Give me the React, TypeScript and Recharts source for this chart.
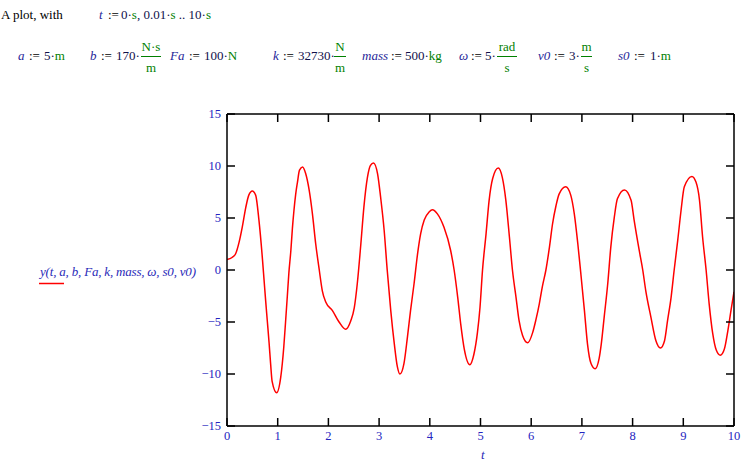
import React from "react";
import { LineChart, Line, XAxis, YAxis } from "recharts";

const tValues = [
  0, 0.1, 0.17, 0.24, 0.3, 0.37, 0.43, 0.5, 0.565, 0.63, 0.7, 0.73, 0.76, 0.795, 0.83, 0.86, 0.89, 0.98,
  1.06, 1.12, 1.155, 1.19, 1.22, 1.26, 1.29, 1.32, 1.355, 1.39, 1.43, 1.49, 1.55, 1.62, 1.685, 1.75, 1.82,
  1.88, 1.95, 2.08, 2.21, 2.34, 2.44, 2.51, 2.57, 2.64, 2.7, 2.77, 2.83, 2.89, 2.97, 3.03, 3.1, 3.16, 3.23,
  3.3, 3.36, 3.41, 3.49, 3.56, 3.62, 3.69, 3.76, 3.82, 3.89, 3.99, 4.05, 4.15, 4.28, 4.41, 4.48, 4.55, 4.61,
  4.68, 4.79, 4.87, 4.94, 4.99, 5.04, 5.11, 5.17, 5.24, 5.35, 5.43, 5.5, 5.57, 5.63, 5.7, 5.76, 5.83, 5.93,
  6.03, 6.09, 6.16, 6.22, 6.29, 6.36, 6.42, 6.49, 6.55, 6.68, 6.78, 6.85, 6.92, 6.98, 7.05, 7.11, 7.18, 7.26,
  7.34, 7.38, 7.44, 7.51, 7.57, 7.64, 7.7, 7.84, 7.97, 8.03, 8.13, 8.2, 8.26, 8.36, 8.46, 8.55, 8.63, 8.69,
  8.76, 8.82, 8.89, 8.955, 9.02, 9.17, 9.25, 9.32, 9.38, 9.45, 9.51, 9.58, 9.65, 9.73, 9.81, 9.88, 9.94, 10,
];
const yValues = [
  1.0, 1.2, 1.56, 2.7, 4.1, 6.0, 7.2, 7.6, 7.2, 4.8, 1.0, -0.9, -2.8, -4.9, -7.0, -9.0, -10.7, -11.8,
  -10.3, -7.4, -5.0, -2.5, -0.3, 1.9, 4.0, 5.7, 7.3, 8.45, 9.6, 9.9, 9.3, 7.7, 5.4, 2.5, 0,
  -2.0, -3.1, -3.9, -5.0, -5.7, -4.9, -3.65, -1.3, 2.5, 6.05, 8.9, 10.05, 10.3, 9.25, 7.0, 3.8, 0, -3.9,
  -7.1, -9.3, -10.0, -9.0, -6.4, -3.9, -1.3, 1.6, 3.5, 4.8, 5.6, 5.8, 5.4, 4.1, 1.9, 0, -2.6, -5.2,
  -7.6, -9.1, -8.1, -6.0, -3.6, 0, 3.5, 6.7, 8.8, 9.8, 8.9, 6.7, 3.2, 0, -2.6, -4.85, -6.3, -7.0,
  -6.0, -4.85, -3.25, -1.6, 0, 2.2, 4.4, 6.2, 7.3, 8.0, 7.2, 5.4, 2.5, -0.4, -3.9, -7.1, -9.0, -9.5,
  -8.5, -7.2, -4.5, -1.3, 2.2, 5.1, 6.85, 7.7, 6.7, 4.8, 1.9, 0, -2.0, -4.5, -6.8, -7.5, -6.8, -4.85,
  -2.6, 0, 2.85, 5.7, 8.0, 9.0, 8.45, 6.7, 3.2, 0, -3.25, -6.1, -7.7, -8.2, -7.6, -5.8, -3.9, -2.1,
];
const xTicks = [0, 1, 2, 3, 4, 5, 6, 7, 8, 9, 10];
const yTicks = [-15, -10, -5, 0, 5, 10, 15];

const data = tValues.map((t, i) => ({ t, y: yValues[i] }));

const SERIF = "'Liberation Serif', 'Times New Roman', serif";
const NAME = "#1f1f99";
const NUM = "#10104a";
const UNIT = "#008000";
const TICK = "#2424c0";

const fmt = (v: number) => (v < 0 ? "\u2212" + Math.abs(v) : String(v));
const NoLabel = () => <g />;

const Frac = ({ x, num, den, w }: { x: number; num: string; den: string; w: number }) => (
  <g>
    <text x={x + w / 2} y={51} textAnchor="middle" fill={UNIT} fontSize={13} fontFamily={SERIF}>{num}</text>
    <line x1={x} x2={x + w} y1={56.5} y2={56.5} stroke={UNIT} strokeWidth={1} />
    <text x={x + w / 2} y={72} textAnchor="middle" fill={UNIT} fontSize={13} fontFamily={SERIF}>{den}</text>
  </g>
);

const Name = ({ x, y, s }: { x: number; y: number; s: string }) => (
  <text x={x} y={y} fill={NAME} fontStyle="italic" fontSize={13} fontFamily={SERIF}>{s}</text>
);
const Plain = ({ x, y, s, c = NUM }: { x: number; y: number; s: string; c?: string }) => (
  <text x={x} y={y} fill={c} fontSize={13} fontFamily={SERIF}>{s}</text>
);

export default function App() {
  const axisStyle = { stroke: "#000", strokeWidth: 1.5 };
  const tickStyle = { fill: TICK, fontSize: 12.5, fontFamily: SERIF };
  const R = 60;
  return (
    <div style={{ position: "absolute", left: 0, top: 0, width: 756, height: 472, background: "#fff", fontFamily: SERIF }}>
      <LineChart width={756} height={472} data={data} margin={{ top: 113, right: 21, bottom: 16, left: 197 }}>
        <XAxis xAxisId="b" dataKey="t" type="number" domain={[0, 10]} ticks={xTicks} height={30}
          tickSize={-8} tickMargin={13} axisLine={axisStyle} tickLine={axisStyle} tick={tickStyle}
          allowDataOverflow interval={0} />
        <XAxis xAxisId="top" orientation="top" dataKey="t" type="number" domain={[0, 10]} ticks={xTicks} height={1}
          tickSize={-8} axisLine={axisStyle} tickLine={axisStyle} tick={NoLabel} allowDataOverflow interval={0} />
        <YAxis yAxisId="l" type="number" domain={[-15, 15]} ticks={yTicks} width={30}
          tickSize={-8} tickMargin={14} axisLine={axisStyle} tickLine={axisStyle} tick={tickStyle}
          tickFormatter={fmt} allowDataOverflow interval={0} />
        <YAxis yAxisId="r" orientation="right" type="number" domain={[-15, 15]} ticks={yTicks} width={1}
          tickSize={-8} axisLine={axisStyle} tickLine={axisStyle} tick={NoLabel} allowDataOverflow interval={0} />
        <Line xAxisId="top" yAxisId="r" dataKey="y" type="monotone" stroke="none" strokeWidth={0}
          dot={false} activeDot={false} isAnimationActive={false} />
        <Line xAxisId="b" yAxisId="l" dataKey="y" type="monotone" stroke="#ff0000" strokeWidth={1.5}
          dot={false} isAnimationActive={false} />
      </LineChart>
      <svg width={756} height={472} style={{ position: "absolute", left: 0, top: 0, pointerEvents: "none" }}>
        <Plain x={1} y={19} s="A plot, with" c="#000" />
        <Name x={99} y={19} s="t" />
        <Plain x={108} y={19} s=":=" c="#000" />
        <text x={121} y={19} fontSize={13} fontFamily={SERIF}>
          <tspan fill={NUM}>0·</tspan><tspan fill={UNIT}>s</tspan><tspan fill={NUM}>, 0.01·</tspan>
          <tspan fill={UNIT}>s</tspan><tspan fill={NUM}> .. 10·</tspan><tspan fill={UNIT}>s</tspan>
        </text>

        <Name x={18} y={R} s="a" />
        <Plain x={29} y={R} s=":=" c="#000" />
        <text x={44} y={R} fontSize={13} fontFamily={SERIF}><tspan fill={NUM}>5·</tspan><tspan fill={UNIT}>m</tspan></text>

        <Name x={90} y={R} s="b" />
        <Plain x={101} y={R} s=":=" c="#000" />
        <Plain x={116} y={R} s="170·" />
        <Frac x={141} num="N·s" den="m" w={20} />

        <Name x={170} y={R} s="Fa" />
        <Plain x={189} y={R} s=":=" c="#000" />
        <text x={204} y={R} fontSize={13} fontFamily={SERIF}><tspan fill={NUM}>100·</tspan><tspan fill={UNIT}>N</tspan></text>

        <Name x={273} y={R} s="k" />
        <Plain x={283} y={R} s=":=" c="#000" />
        <Plain x={298} y={R} s="32730·" />
        <Frac x={334} num="N" den="m" w={12} />

        <Name x={362} y={R} s="mass" />
        <Plain x={391} y={R} s=":=" c="#000" />
        <text x={405} y={R} fontSize={13} fontFamily={SERIF}><tspan fill={NUM}>500·</tspan><tspan fill={UNIT}>kg</tspan></text>

        <Name x={459} y={R} s="ω" />
        <Plain x={471} y={R} s=":=" c="#000" />
        <Plain x={485} y={R} s="5·" />
        <Frac x={497} num="rad" den="s" w={20} />

        <Name x={538} y={R} s="v0" />
        <Plain x={554} y={R} s=":=" c="#000" />
        <Plain x={569} y={R} s="3·" />
        <Frac x={581} num="m" den="s" w={11} />

        <Name x={618} y={R} s="s0" />
        <Plain x={634} y={R} s=":=" c="#000" />
        <text x={650} y={R} fontSize={13} fontFamily={SERIF}><tspan fill={NUM}>1·</tspan><tspan fill={UNIT}>m</tspan></text>

        <text x={40} y={276} fill="#2a2ab8" fontStyle="italic" fontSize={13} fontFamily={SERIF}
          textLength={156} lengthAdjust="spacing">y(t, a, b, Fa, k, mass, ω, s0, v0)</text>
        <line x1={39} x2={64} y1={283.5} y2={283.5} stroke="#ff0000" strokeWidth={1.5} />

        <text x={481} y={459} fill="#2a2ab8" fontStyle="italic" fontSize={13} fontFamily={SERIF}>t</text>
      </svg>
    </div>
  );
}
